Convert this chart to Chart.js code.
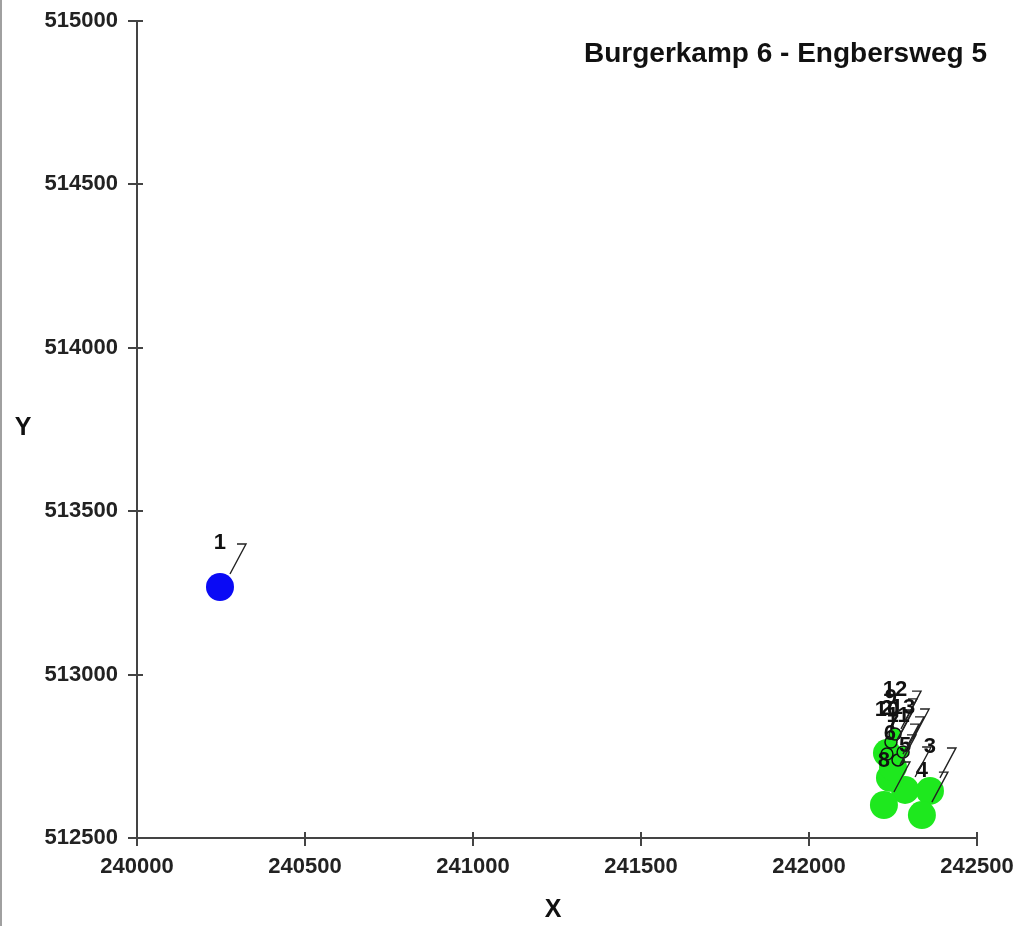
<!DOCTYPE html>
<html>
<head>
<meta charset="utf-8">
<script src="https://cdn.jsdelivr.net/npm/chart.js@4/dist/chart.umd.min.js"></script>
<style>
  html, body { margin: 0; padding: 0; background: #fff; }
  #wrap { width: 1020px; height: 926px; }
</style>
</head>
<body>
<div id="wrap"><canvas id="c" width="1020" height="926"></canvas></div>
<script>
// Source location (blue)
const bronX = [240247];
const bronY = [513268];
const bronLabels = ['1'];

// Receptor points (large green)
const groenX = [242232, 242360, 242336, 242286, 242241, 242250, 242223];
const groenY = [512760, 512644, 512570, 512647, 512684, 512717, 512601];
const groenLabels = ['2', '3', '4', '5', '6', '7', '8'];

// Receptor points (small green, outlined)
const kleinX = [242244, 242232, 242265, 242256, 242280];
const kleinY = [512794, 512757, 512739, 512818, 512763];
const kleinLabels = ['9', '10', '11', '12', '13'];

// Axis ranges and ticks
const xMin = 240000, xMax = 242500, xStep = 500;
const yMin = 512500, yMax = 515000, yStep = 500;

const chartTitle = 'Burgerkamp 6 - Engbersweg 5';
const xTitle = 'X';
const yTitle = 'Y';

const FONT = '"Liberation Sans", Arial, sans-serif';

function pts(xs, ys) { return xs.map((x, i) => ({ x: x, y: ys[i] })); }

const AXIS_COLOR = '#444';

const decorPlugin = {
  id: 'decor',
  afterDraw(chart) {
    const ctx = chart.ctx;
    const xs = chart.scales.x, ys = chart.scales.y;
    const x0 = xs.left, y0 = ys.bottom;
    ctx.save();

    // outer frame line on the left edge
    ctx.strokeStyle = '#a0a0a0';
    ctx.lineWidth = 2;
    ctx.beginPath(); ctx.moveTo(1, 0); ctx.lineTo(1, chart.height); ctx.stroke();

    // tick marks crossing the axes
    ctx.strokeStyle = AXIS_COLOR;
    ctx.lineWidth = 2;
    ys.ticks.forEach(t => {
      const py = Math.round(ys.getPixelForValue(t.value));
      ctx.beginPath(); ctx.moveTo(x0 - 9, py); ctx.lineTo(x0 + 6, py); ctx.stroke();
    });
    xs.ticks.forEach(t => {
      const px = Math.round(xs.getPixelForValue(t.value));
      ctx.beginPath(); ctx.moveTo(px, y0 - 6); ctx.lineTo(px, y0 + 8); ctx.stroke();
    });

    // point labels with leader lines
    ctx.font = 'bold 22px ' + FONT;
    ctx.textAlign = 'center';
    ctx.textBaseline = 'middle';
    chart.data.datasets.forEach((ds, di) => {
      const meta = chart.getDatasetMeta(di);
      meta.data.forEach((el, i) => {
        const px = el.x, py = el.y;
        ctx.strokeStyle = '#222';
        ctx.lineWidth = 1.4;
        ctx.beginPath();
        ctx.moveTo(px + 17, py - 43);
        ctx.lineTo(px + 26, py - 43);
        ctx.lineTo(px + 10, py - 13);
        ctx.stroke();
        ctx.fillStyle = '#111';
        ctx.fillText(ds.pointLabels[i], px, py - 44);
      });
    });

    // chart title
    ctx.fillStyle = '#111';
    ctx.font = 'bold 28px ' + FONT;
    ctx.textAlign = 'right';
    ctx.textBaseline = 'alphabetic';
    ctx.fillText(chartTitle, 987, 62);

    // axis titles
    ctx.font = 'bold 25px ' + FONT;
    ctx.textAlign = 'center';
    ctx.textBaseline = 'middle';
    ctx.fillText(xTitle, 553, 910);
    ctx.fillText(yTitle, 23, 428);

    ctx.restore();
  }
};

const tickFont = { family: FONT, size: 22, weight: 'bold' };

new Chart(document.getElementById('c'), {
  type: 'scatter',
  data: {
    datasets: [
      {
        data: pts(groenX, groenY),
        pointLabels: groenLabels,
        backgroundColor: '#1ee81e',
        borderColor: '#1ee81e',
        borderWidth: 0,
        pointRadius: 14,
        order: 3
      },
      {
        data: pts(kleinX, kleinY),
        pointLabels: kleinLabels,
        backgroundColor: '#1ee81e',
        borderColor: '#111',
        borderWidth: 1.5,
        pointRadius: 6,
        order: 2
      },
      {
        data: pts(bronX, bronY),
        pointLabels: bronLabels,
        backgroundColor: '#0a0af5',
        borderColor: '#0a0af5',
        borderWidth: 0,
        pointRadius: 14,
        order: 1
      }
    ]
  },
  options: {
    responsive: false,
    animation: false,
    devicePixelRatio: 1,
    events: [],
    layout: { padding: { top: 21, right: 43, left: 0, bottom: 0 } },
    plugins: { legend: { display: false }, tooltip: { enabled: false }, title: { display: false } },
    scales: {
      x: {
        type: 'linear',
        min: xMin, max: xMax,
        ticks: {
          stepSize: xStep,
          callback: v => String(v),
          font: tickFont,
          color: '#222',
          padding: 16,
          maxRotation: 0
        },
        grid: { display: false, drawTicks: false },
        border: { display: true, color: AXIS_COLOR, width: 2 },
        afterFit(s) {
          s.height = 88;
          s.paddingLeft = 0; s.paddingRight = 0; s.paddingTop = 0; s.paddingBottom = 0;
        }
      },
      y: {
        type: 'linear',
        min: yMin, max: yMax,
        ticks: {
          stepSize: yStep,
          callback: v => String(v),
          font: tickFont,
          color: '#222',
          padding: 19
        },
        grid: { display: false, drawTicks: false },
        border: { display: true, color: AXIS_COLOR, width: 2 },
        afterFit(s) {
          s.width = 137;
          s.paddingLeft = 0; s.paddingRight = 0; s.paddingTop = 0; s.paddingBottom = 0;
        }
      }
    }
  },
  plugins: [decorPlugin]
});
</script>
</body>
</html>
